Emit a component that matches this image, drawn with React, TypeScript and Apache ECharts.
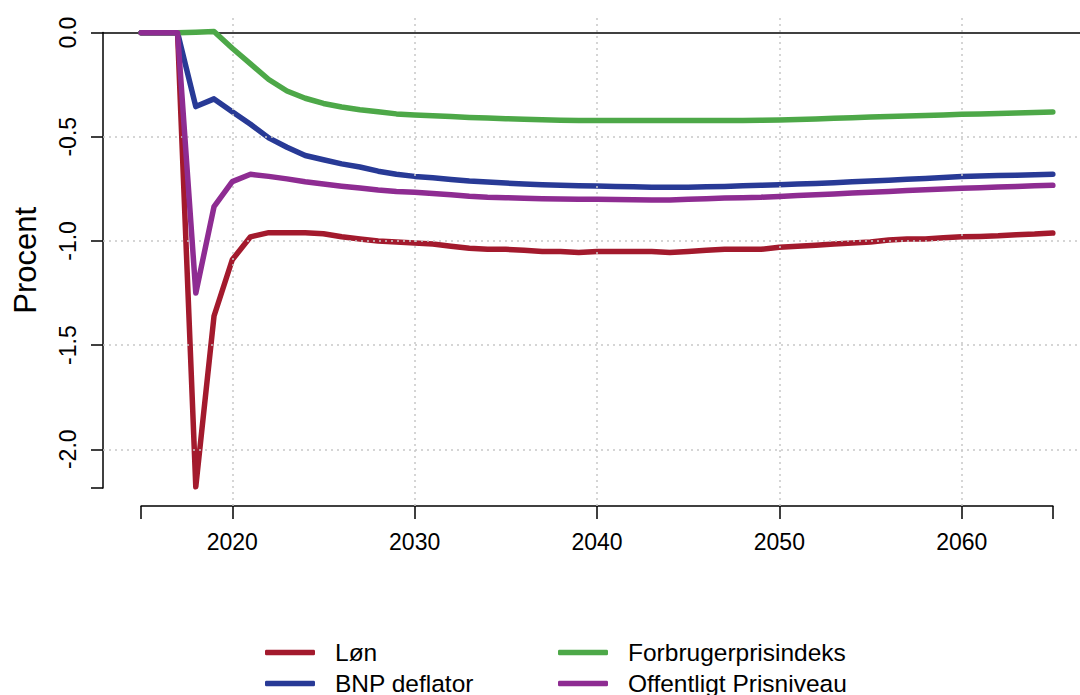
import React, { useEffect, useRef } from "react";
import * as echarts from "echarts";

const years = [
  2015, 2016, 2017, 2018, 2019, 2020, 2021, 2022, 2023, 2024,
  2025, 2026, 2027, 2028, 2029, 2030, 2031, 2032, 2033, 2034,
  2035, 2036, 2037, 2038, 2039, 2040, 2041, 2042, 2043, 2044,
  2045, 2046, 2047, 2048, 2049, 2050, 2051, 2052, 2053, 2054,
  2055, 2056, 2057, 2058, 2059, 2060, 2061, 2062, 2063, 2064, 2065,
];

const lon = [
  0, 0, 0, -2.18, -1.36, -1.09, -0.98, -0.96, -0.96, -0.96,
  -0.965, -0.98, -0.99, -1.0, -1.005, -1.01, -1.015, -1.025, -1.035, -1.04,
  -1.04, -1.045, -1.05, -1.05, -1.055, -1.05, -1.05, -1.05, -1.05, -1.055,
  -1.05, -1.045, -1.04, -1.04, -1.04, -1.03, -1.025, -1.02, -1.015, -1.01,
  -1.005, -0.995, -0.99, -0.99, -0.985, -0.98, -0.978, -0.975, -0.97, -0.967, -0.962,
];

const bnp = [
  0, 0, 0, -0.355, -0.318, -0.38, -0.44, -0.505, -0.55, -0.59,
  -0.61, -0.63, -0.645, -0.665, -0.68, -0.69, -0.697, -0.705, -0.712, -0.717,
  -0.722, -0.726, -0.73, -0.733, -0.735, -0.736, -0.738, -0.74, -0.742, -0.742,
  -0.742, -0.74, -0.738, -0.735, -0.733, -0.73, -0.727, -0.724, -0.72, -0.716,
  -0.712, -0.708, -0.704, -0.7, -0.695, -0.69, -0.688, -0.686, -0.684, -0.682, -0.68,
];

const fpi = [
  0, 0, 0, 0.002, 0.005, -0.075, -0.15, -0.225, -0.28, -0.315,
  -0.34, -0.357, -0.37, -0.38, -0.39, -0.395, -0.399, -0.403, -0.407, -0.41,
  -0.413, -0.416, -0.418, -0.42, -0.422, -0.422, -0.422, -0.422, -0.422, -0.422,
  -0.422, -0.422, -0.422, -0.422, -0.421, -0.419, -0.417, -0.414, -0.411, -0.408,
  -0.405, -0.402, -0.4, -0.398, -0.395, -0.392, -0.39, -0.388, -0.386, -0.383, -0.381,
];

const off = [
  0, 0, 0, -1.25, -0.835, -0.715, -0.68, -0.69, -0.702, -0.716,
  -0.727, -0.737, -0.746, -0.755, -0.762, -0.766, -0.772, -0.778, -0.785, -0.79,
  -0.792, -0.795, -0.797, -0.799, -0.8, -0.8, -0.801, -0.802, -0.803, -0.803,
  -0.8, -0.797, -0.794, -0.792, -0.79, -0.786, -0.782, -0.778, -0.774, -0.77,
  -0.766, -0.762, -0.758, -0.754, -0.75, -0.747, -0.744, -0.741, -0.738, -0.735, -0.733,
];

const seriesNames = ["Løn", "BNP deflator", "Forbrugerprisindeks", "Offentligt Prisniveau"];
const seriesColors = ["#A31A2D", "#283A96", "#4DA848", "#8E2C92"];
const xTickValues = [2015, 2020, 2030, 2040, 2050, 2060, 2065];
const xLabelValues = [2020, 2030, 2040, 2050, 2060];
const yTickValues = [0, -0.5, -1, -1.5, -2, -2.186];
const yLabelValues = [0, -0.5, -1, -1.5, -2];
const yGridValues = [-0.5, -1, -1.5, -2];
const xGridValues = [2020, 2030, 2040, 2050, 2060];

const FONT = "'Liberation Sans', Arial, Helvetica, sans-serif";

export default function App() {
  const ref = useRef<HTMLDivElement>(null);
  useEffect(() => {
    if (!ref.current) return;
    const chart = echarts.init(ref.current, null, { renderer: "svg" });
    const allData = [lon, bnp, fpi, off];
    const gridStyle = { color: "#C8C8C8", width: 1.5, type: [2, 4] as any };
    const legendBase = {
      orient: "vertical",
      top: 640,
      height: 120,
      padding: 0,
      itemGap: 6,
      itemWidth: 50,
      itemHeight: 5.5,
      icon: "roundRect",
      textStyle: { fontSize: 24.5, lineHeight: 24, color: "#000", fontFamily: FONT, padding: [0, 0, 0, 15] },
    };
    const option: any = {
      animation: false,
      backgroundColor: "#ffffff",
      textStyle: { fontFamily: FONT },
      grid: [
        { left: 103, right: 0, top: 14.5, bottom: 189 },
        { left: 141.1, width: 911.8, top: 505, height: 1 },
        { left: 103, width: 1, top: 32.6, height: 455.4 },
      ],
      xAxis: [
        { type: "value", gridIndex: 0, min: 2012.911, max: 2066.49, show: false },
        {
          type: "value",
          gridIndex: 1,
          position: "bottom",
          min: 2015,
          max: 2065,
          axisLine: { show: true, lineStyle: { color: "#000", width: 1.5 } },
          axisTick: { show: true, length: 13, lineStyle: { color: "#000", width: 1.5 }, customValues: xTickValues },
          axisLabel: {
            show: true,
            customValues: xLabelValues,
            fontSize: 23,
            color: "#000",
            margin: 24,
            fontFamily: FONT,
            formatter: (v: number) => String(v),
          },
          splitLine: { show: false },
        },
        { type: "value", gridIndex: 2, min: 0, max: 1, show: false },
      ],
      yAxis: [
        { type: "value", gridIndex: 0, min: -2.272, max: 0.087, show: false },
        { type: "value", gridIndex: 1, min: 0, max: 1, show: false },
        {
          type: "value",
          gridIndex: 2,
          position: "left",
          min: -2.186,
          max: 0,
          name: "Procent",
          nameLocation: "middle",
          nameRotate: 90,
          nameGap: 62,
          nameTextStyle: { fontSize: 31, color: "#000", fontFamily: FONT },
          axisLine: { show: true, lineStyle: { color: "#000", width: 1.5 } },
          axisTick: { show: true, length: 12, lineStyle: { color: "#000", width: 1.5 }, customValues: yTickValues },
          axisLabel: {
            show: true,
            customValues: yLabelValues,
            rotate: 90,
            fontSize: 23,
            color: "#000",
            margin: 24,
            fontFamily: FONT,
            formatter: (v: number) => v.toFixed(1),
          },
          splitLine: { show: false },
        },
      ],
      legend: [
        { ...legendBase, left: 265, data: [seriesNames[0], seriesNames[1]] },
        { ...legendBase, left: 558, data: [seriesNames[2], seriesNames[3]] },
      ],
      series: [
        {
          type: "line",
          name: "__grid",
          xAxisIndex: 0,
          yAxisIndex: 0,
          data: [],
          z: 1,
          silent: true,
          markLine: {
            silent: true,
            symbol: "none",
            label: { show: false },
            animation: false,
            data: [
              ...yGridValues.map((v) => ({ yAxis: v, lineStyle: gridStyle })),
              ...xGridValues.map((v) => ({ xAxis: v, lineStyle: gridStyle })),
              { yAxis: 0, lineStyle: { color: "#000", width: 1.5, type: "solid" } },
            ],
          },
        },
        ...allData.map((arr, i) => ({
          type: "line",
          name: seriesNames[i],
          xAxisIndex: 0,
          yAxisIndex: 0,
          data: years.map((y, j) => [y, arr[j]]),
          showSymbol: false,
          symbol: "none",
          z: 3 + i,
          color: seriesColors[i],
          lineStyle: { color: seriesColors[i], width: 5.5, cap: "round", join: "round" },
        })),
      ],
    };
    chart.setOption(option);
    return () => chart.dispose();
  }, []);
  return (
    <div
      ref={ref}
      style={{ position: "fixed", left: 0, top: 0, width: 1080, height: 695, background: "#fff" }}
    />
  );
}
